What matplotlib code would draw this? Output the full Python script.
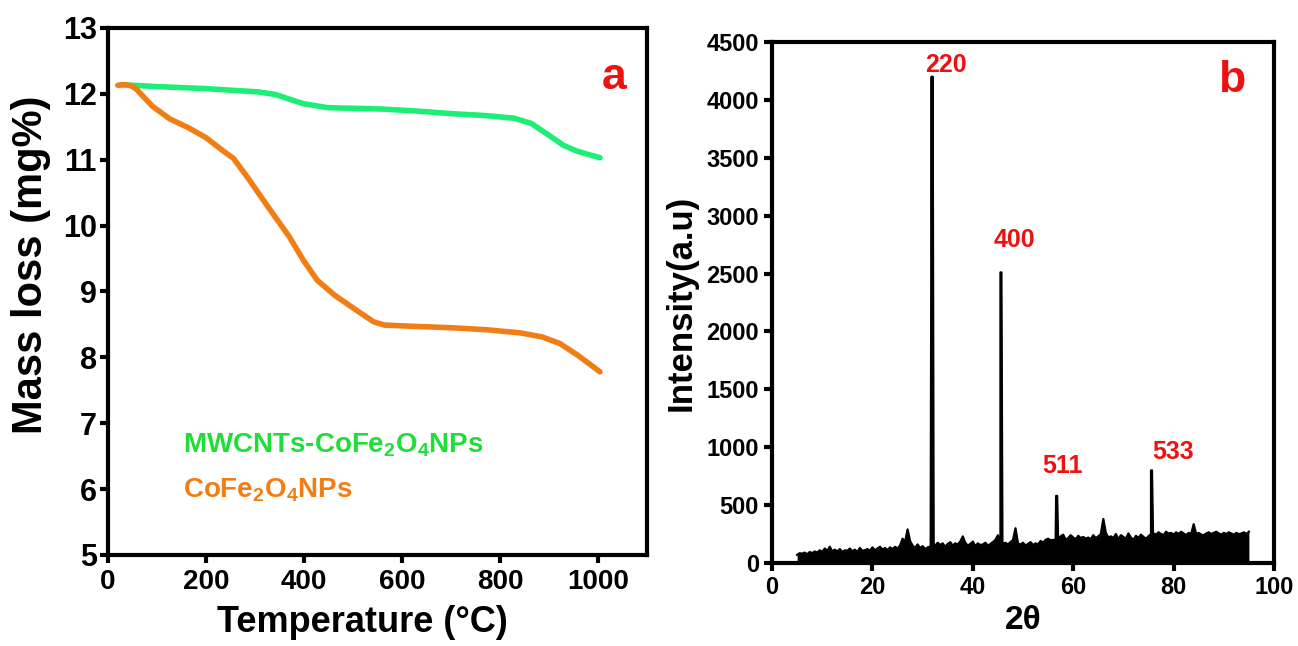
import matplotlib
matplotlib.use("Agg")
import matplotlib.pyplot as plt
import numpy as np

plt.rcParams['font.family'] = ['Liberation Sans', 'DejaVu Sans']
plt.rcParams['font.weight'] = 'bold'
plt.rcParams['mathtext.fontset'] = 'custom'
plt.rcParams['mathtext.rm'] = 'Liberation Sans:bold'
plt.rcParams['mathtext.bf'] = 'Liberation Sans:bold'
plt.rcParams['mathtext.it'] = 'Liberation Sans:bold'

# ---------------- TGA data (panel a) ----------------
temp_mw = [26, 100, 198, 306, 342, 370, 399, 449, 556, 628, 700, 771, 829, 864, 900, 929, 957, 1004]
mass_mw = [12.14, 12.11, 12.08, 12.03, 11.99, 11.92, 11.85, 11.79, 11.77, 11.74, 11.70, 11.67,
           11.63, 11.55, 11.37, 11.22, 11.13, 11.03]

temp_cf = [20, 35, 48, 58, 91, 126, 163, 199, 234, 256, 284, 327, 370, 399, 427, 463, 506, 542, 564,
           628, 700, 771, 843, 886, 922, 957, 1004]
mass_cf = [12.13, 12.14, 12.12, 12.07, 11.81, 11.62, 11.49, 11.34, 11.14, 11.02, 10.74, 10.28, 9.83,
           9.47, 9.17, 8.94, 8.72, 8.54, 8.49, 8.47, 8.45, 8.42, 8.37, 8.31, 8.21, 8.04, 7.78]

# ---------------- XRD data (panel b) ----------------
theta_start, theta_step = 5.0, 0.5
noise = [70, 85, 80, 90, 75, 95, 85, 100, 90,
         110, 95, 125, 105, 140, 100, 115,
         100, 120, 95, 110, 105, 125, 100, 115, 95, 130, 105, 110,
         120, 105, 135, 110, 125, 140, 115, 130, 110, 135, 120, 140, 125, 150,
         210, 180, 290, 190, 150, 130, 160,
         130, 145, 120, 135, 140,
         160, 150, 175, 155, 170, 140, 165, 180, 150, 170, 160, 185,
         230, 175, 150, 165, 185, 145, 170, 155, 160, 175, 150, 165, 180, 200,
         240, 170, 165, 175, 160, 180, 200, 300,
         170, 160, 175, 150, 165, 180, 155, 170, 160, 190, 175, 200, 210, 195,
         200, 190, 210, 230, 245, 200, 215, 240, 220, 205, 235, 215,
         225, 210, 220, 205, 240, 215, 230, 250, 380,
         260, 220, 230, 215, 250, 205, 240, 225, 210, 255, 220, 200, 235, 215, 245, 225, 210, 230,
         240, 255, 245, 265, 250, 240, 270, 255, 260, 245, 265, 250, 270, 255, 240, 260, 250,
         335, 250, 260, 245, 240, 255, 265, 250, 260, 270, 255, 245, 260, 250, 265, 255, 245,
         260, 250, 255, 265, 250, 270]
peak_pos = [31.9, 45.6, 56.7, 75.6]
peak_int = [4200, 2510, 580, 800]
peak_labels = ['220', '400', '511', '533']
label_pos = [(34.6, 4300), (48.3, 2790), (57.8, 840), (80.0, 960)]

theta_noise = theta_start + theta_step * np.arange(len(noise))
xs = list(theta_noise)
ys = list(noise)
for p, h in zip(peak_pos, peak_int):
    base = float(np.interp(p, theta_noise, noise))
    xs += [p - 0.3, p - 0.1, p + 0.1, p + 0.3]
    ys += [base, h, h, base]
order = np.argsort(xs, kind='stable')
xs = np.array(xs)[order]
ys = np.array(ys)[order]

GREEN_LINE = '#1CEE76'
GREEN_TEXT = '#20DD3A'
ORANGE = '#F07E14'
RED = '#EE1111'

fig = plt.figure(figsize=(12.98, 6.46), dpi=100)
ax1 = fig.add_axes([0.0832, 0.1409, 0.4153, 0.8158])
ax2 = fig.add_axes([0.5948, 0.1285, 0.3867, 0.8065])

for ax in (ax1, ax2):
    for s in ax.spines.values():
        s.set_linewidth(3)
    ax.tick_params(direction='out', width=3, length=6)

# Panel a
ax1.plot(temp_mw, mass_mw, color=GREEN_LINE, lw=4, solid_capstyle='round')
ax1.plot(temp_cf, mass_cf, color=ORANGE, lw=4, solid_capstyle='round')
ax1.set_xlim(0, 1100)
ax1.set_ylim(5, 13)
ax1.set_xticks([0, 200, 400, 600, 800, 1000])
ax1.set_yticks(range(5, 14))
ax1.tick_params(axis='x', labelsize=20, pad=4)
ax1.tick_params(axis='y', labelsize=22, pad=2)
ax1.set_xlabel('Temperature (°C)', fontsize=26, fontweight='bold', labelpad=6)
ax1.xaxis.set_label_coords(0.472, -0.095)
ax1.set_ylabel('Mass loss (mg%)', fontsize=30, fontweight='bold', labelpad=8)
ax1.yaxis.set_label_coords(-0.105, 0.55)
ax1.text(1033, 12.25, 'a', color=RED, fontsize=32, fontweight='bold', ha='center', va='center')
ax1.text(153, 6.67, r'MWCNTs-CoFe$_{2}$O$_{4}$NPs', color=GREEN_TEXT, fontsize=20,
         fontweight='bold', ha='left', va='center')
ax1.text(153, 5.99, r'CoFe$_{2}$O$_{4}$NPs', color=ORANGE, fontsize=20,
         fontweight='bold', ha='left', va='center')

# Panel b
ax2.fill_between(xs, 0, ys, color='black', lw=0)
ax2.plot(xs, ys, color='black', lw=1.6)
ax2.set_xlim(0, 100)
ax2.set_ylim(0, 4500)
ax2.set_xticks(range(0, 101, 20))
ax2.set_yticks(range(0, 4501, 500))
ax2.tick_params(axis='both', labelsize=17)
ax2.set_xlabel('2θ', fontsize=24, fontweight='bold', labelpad=4)
ax2.set_ylabel('Intensity(a.u)', fontsize=25, fontweight='bold', labelpad=6)
for lab, (lx, ly) in zip(peak_labels, label_pos):
    ax2.text(lx, ly, lab, color=RED, fontsize=18, fontweight='bold', ha='center', va='center')
ax2.text(91.6, 4170, 'b', color=RED, fontsize=32, fontweight='bold', ha='center', va='center')

for ax in (ax1, ax2):
    for lbl in ax.get_xticklabels() + ax.get_yticklabels():
        lbl.set_fontweight('bold')

fig.savefig('out.png', dpi=100)
